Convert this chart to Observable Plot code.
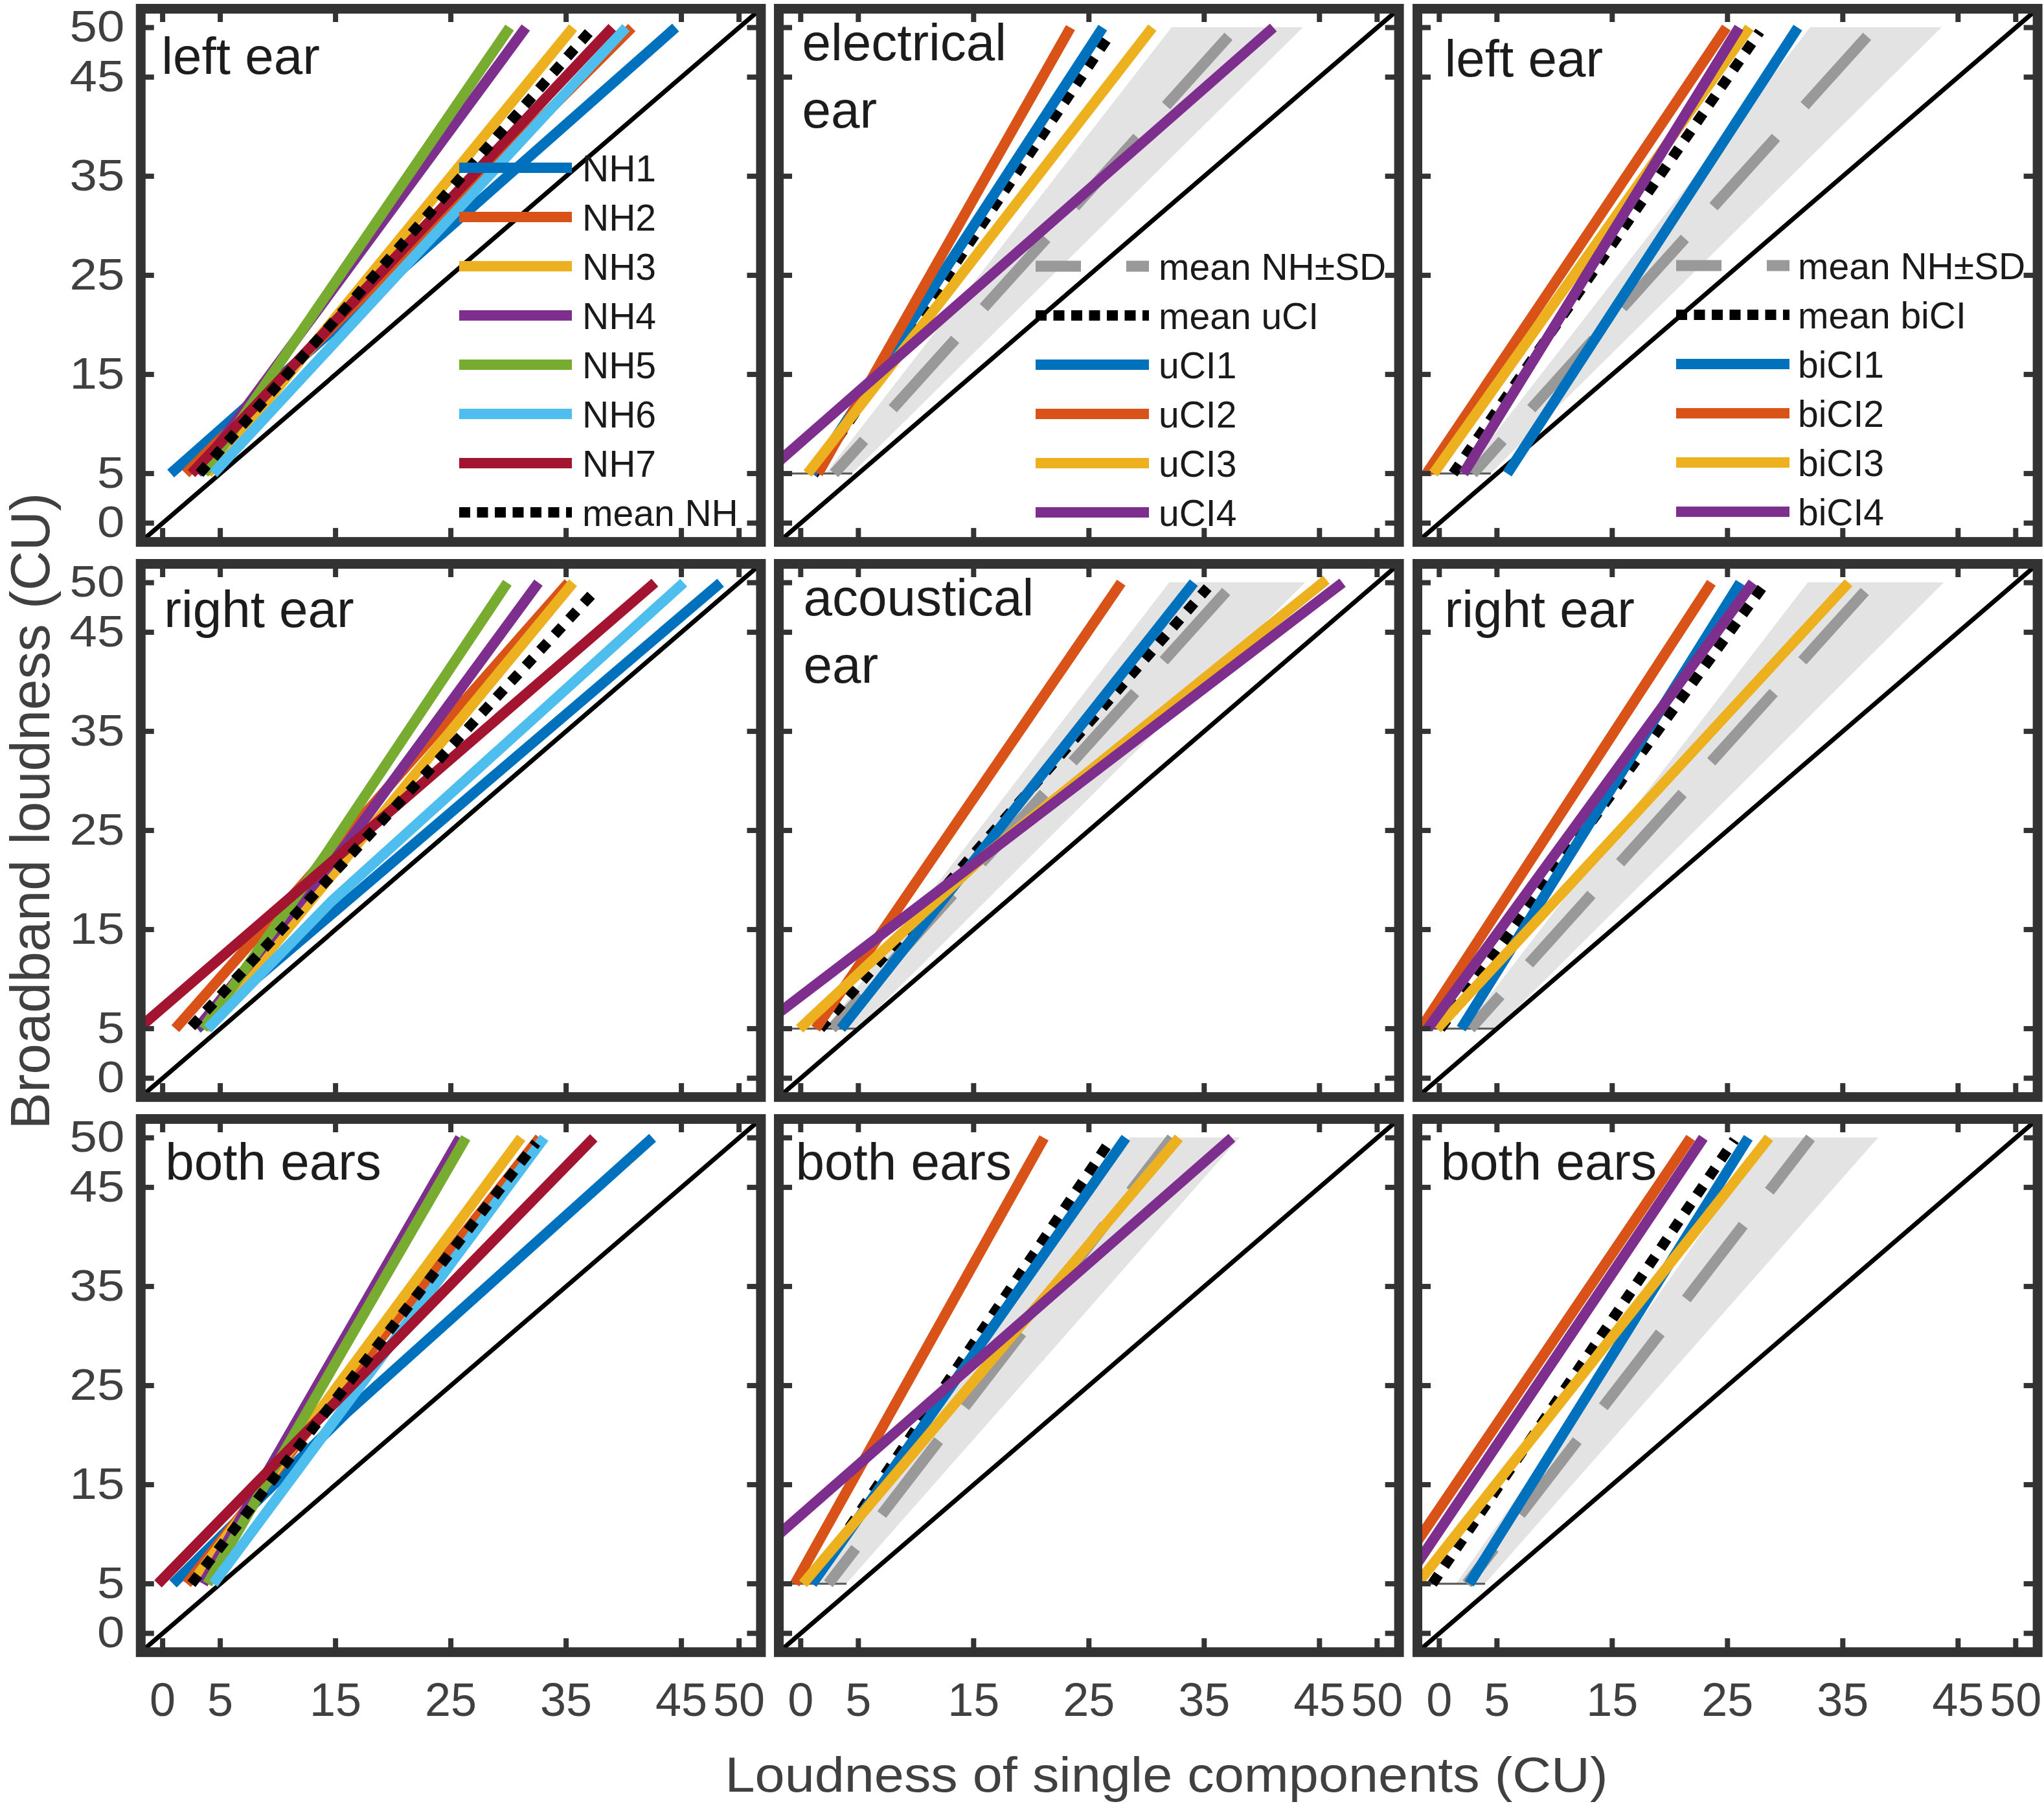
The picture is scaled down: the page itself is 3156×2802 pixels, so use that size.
<!DOCTYPE html>
<html><head><meta charset="utf-8">
<script src="https://cdn.jsdelivr.net/npm/d3@7"></script>
<script src="https://cdn.jsdelivr.net/npm/@observablehq/plot@0.6"></script>
<style>
html,body{margin:0;padding:0;background:#fff;}
#fig{position:relative;width:3156px;height:2802px;background:#fff;font-family:"Liberation Sans",Arial,Helvetica,sans-serif;overflow:hidden;}
.ttl{position:absolute;color:#404040;white-space:nowrap;line-height:1;}
</style></head><body><div id="fig"></div>
<script>
// ---------------- DATA ----------------
const xTicks = [0, 5, 15, 25, 35, 45, 50];
const yTicks = [0, 5, 15, 25, 35, 45, 50];
const axisDomain = [-1.9, 51.9];
const xTitle = "Loudness of single components (CU)";
const yTitle = "Broadband loudness (CU)";
const panelLabels = [
  ["left ear", "electrical\near", "left ear"],
  ["right ear", "acoustical\near", "right ear"],
  ["both ears", "both ears", "both ears"]
];
const nhNames = ["NH1", "NH2", "NH3", "NH4", "NH5", "NH6", "NH7"];
const uciNames = ["uCI1", "uCI2", "uCI3", "uCI4"];
const biciNames = ["biCI1", "biCI2", "biCI3", "biCI4"];
const nhColors = ["#0072BD", "#D95319", "#EDB120", "#7E2F8E", "#77AC30", "#4DBEEE", "#A2142F"];
const ciColors = ["#0072BD", "#D95319", "#EDB120", "#7E2F8E"];
const meanNHLabel = "mean NH";
const meanNHSDLabel = "mean NH\u00B1SD";
const meanUCILabel = "mean uCI";
const meanBICILabel = "mean biCI";

// NH listeners: [x, y] points of each fitted function
const nhLeft = [
  [[0.7, 5], [44.5, 50]],
  [[2.0, 5], [40.7, 50]],
  [[3.9, 5], [35.6, 50]],
  [[3.0, 5], [31.5, 50]],
  [[3.6, 5], [30.1, 50]],
  [[4.4, 5], [40.2, 50]],
  [[2.5, 5], [39.0, 50]]
];
const nhLeftMean = [[3.2, 5], [37.2, 49.8]];
const nhRight = [
  [[3.0, 5], [48.4, 50]],
  [[1.1, 5], [35.2, 50]],
  [[3.7, 5], [35.6, 50]],
  [[3.0, 5], [16.0, 23.7], [32.6, 50]],
  [[3.5, 5], [14.0, 22.3], [29.9, 50]],
  [[3.9, 5], [14.6, 17.8], [45.2, 50]],
  [[-2.1, 5], [42.7, 50]]
];
const nhRightMean = [[2.5, 5.2], [37.7, 49.4]];
const nhBoth = [
  [[0.9, 5], [16.0, 22.3], [42.5, 50]],
  [[2.1, 5], [32.7, 50]],
  [[2.5, 5], [31.1, 50]],
  [[3.5, 5], [25.8, 50]],
  [[3.9, 5], [26.3, 50]],
  [[4.4, 5], [33.1, 50]],
  [[-0.4, 5], [37.4, 50]]
];
const nhBothMean = [[2.5, 5], [32.4, 49.5]];

// mean NH (grey dashed) and +-SD band used in CI panels, per row
const nhMeanRef = [
  [[2.9, 5], [37.8, 50]],
  [[2.7, 5], [37.6, 50]],
  [[2.4, 5], [32.2, 50]]
];
const nhBand = [
  [{y: 5, x1: 2.2, x2: 4.5}, {y: 50, x1: 32.2, x2: 43.6}],
  [{y: 5, x1: 2.2, x2: 5.0}, {y: 50, x1: 32.0, x2: 43.8}],
  [{y: 5, x1: 1.5, x2: 4.0}, {y: 50, x1: 28.6, x2: 38.1}]
];

// unilateral CI users
const uciElectrical = [
  [[1.0, 5], [26.2, 50]],
  [[1.5, 5], [23.4, 50]],
  [[0.6, 5], [30.5, 50]],
  [[-3.1, 5], [41.0, 50]]
];
const uciElectricalMean = [[1.1, 4.9], [27.0, 49.6]];
const uciAcoustical = [
  [[3.5, 5], [34.1, 50]],
  [[1.3, 5], [27.8, 50]],
  [[-0.1, 5], [16.0, 22.5], [45.6, 50.3]],
  [[-3.7, 5], [47.0, 50]]
];
const uciAcousticalMean = [[1.7, 5], [35.3, 49.5]];
const uciBoth = [
  [[1.0, 5], [28.2, 50]],
  [[-0.5, 5], [21.1, 50]],
  [[0.2, 5], [32.8, 50]],
  [[-6.8, 5], [37.4, 50]]
];
const uciBothMean = [[1.1, 5.3], [26.9, 49.8]];

// bilateral CI users
const biciLeft = [
  [[5.9, 5], [31.1, 50]],
  [[-1.1, 5], [24.9, 50]],
  [[-0.5, 5], [26.9, 50]],
  [[2.1, 5], [26.0, 50]]
];
const biciLeftMean = [[1.2, 5], [27.8, 49.6]];
const biciRight = [
  [[1.9, 5], [26.1, 50]],
  [[-1.6, 5], [23.6, 50]],
  [[-0.2, 5], [35.5, 50]],
  [[-1.0, 5], [27.2, 50]]
];
const biciRightMean = [[0.1, 5], [28.0, 49.5]];
const biciBoth = [
  [[2.6, 5], [26.8, 50]],
  [[-4.4, 5], [21.8, 50]],
  [[-1.9, 5], [28.6, 50]],
  [[-3.1, 5], [22.9, 50]]
];
const biciBothMean = [[-0.6, 5], [25.6, 49.8]];

// ---------------- LAYOUT / STYLE ----------------
const X0 = 250.6, SX = 17.8, COLW = 985.7;   // pixel of x=0 in first column, px per unit
const Y0 = 807, SY = 15.3, ROWH = 857;       // pixel of y=0 in first row, px per unit
const FRAME = "#333333";
const FONT = "'Liberation Sans', Arial, Helvetica, sans-serif";
const TICK = 21;
const LW = 16;

const panels = [
  [{lines: nhLeft, colors: nhColors, mean: nhLeftMean, ref: false},
   {lines: uciElectrical, colors: ciColors, mean: uciElectricalMean, ref: true},
   {lines: biciLeft, colors: ciColors, mean: biciLeftMean, ref: true}],
  [{lines: nhRight, colors: nhColors, mean: nhRightMean, ref: false},
   {lines: uciAcoustical, colors: ciColors, mean: uciAcousticalMean, ref: true},
   {lines: biciRight, colors: ciColors, mean: biciRightMean, ref: true}],
  [{lines: nhBoth, colors: nhColors, mean: nhBothMean, ref: false},
   {lines: uciBoth, colors: ciColors, mean: uciBothMean, ref: true},
   {lines: biciBoth, colors: ciColors, mean: biciBothMean, ref: true}]
];
const labelOffsets = [
  [[32, 27], [36, 6], [42, 31]],
  [[36, 24], [38, 6], [42, 24]],
  [[38, 20], [26, 20], [36, 20]]
];

const fig = document.getElementById("fig");
const span = axisDomain[1] - axisDomain[0];
const innerW = span * SX, innerH = span * SY;
const diagonal = [[axisDomain[0], axisDomain[0]], [axisDomain[1], axisDomain[1]]];

function makePanel(r, c) {
  const p = panels[r][c];
  const left = X0 + c * COLW + axisDomain[0] * SX;
  const top = Y0 + r * ROWH - axisDomain[1] * SY;
  const ML = c === 0 ? left : 30, MR = 30, MT = 30, MB = r === 2 ? 170 : 30;
  const marks = [];
  if (p.ref) {
    const band = nhBand[r];
    marks.push(Plot.areaX(band, {y: "y", x1: "x1", x2: "x2", fill: "#e3e3e3", clip: true}));
    marks.push(Plot.ruleY([band[0]], {y: "y", x1: () => axisDomain[0], x2: "x2", stroke: "#555", strokeWidth: 3}));
  }
  marks.push(Plot.line(diagonal, {x: d => d[0], y: d => d[1], stroke: "#000", strokeWidth: 7, clip: true}));
  if (p.ref) {
    marks.push(Plot.line(nhMeanRef[r], {x: d => d[0], y: d => d[1], stroke: "#999999", strokeWidth: 17,
      strokeDasharray: "144,66", strokeDashoffset: 75, strokeLinecap: "butt", clip: true}));
  }
  const meanMark = Plot.line(p.mean, {x: d => d[0], y: d => d[1], stroke: "#000", strokeWidth: LW,
    strokeDasharray: "17,16", strokeLinecap: "butt", strokeLinejoin: "round", clip: true});
  if (p.ref) marks.push(meanMark);
  p.lines.forEach((pts, i) => {
    marks.push(Plot.line(pts, {x: d => d[0], y: d => d[1], stroke: p.colors[i], strokeWidth: LW,
      strokeLinecap: "butt", strokeLinejoin: "round", clip: true}));
  });
  if (!p.ref) marks.push(meanMark);
  // inner ticks on four sides
  marks.push(Plot.ruleX(xTicks, {x: d => d, insetTop: innerH - TICK, stroke: FRAME, strokeWidth: 8}));
  marks.push(Plot.ruleX(xTicks, {x: d => d, insetBottom: innerH - TICK, stroke: FRAME, strokeWidth: 8}));
  marks.push(Plot.ruleY(yTicks, {y: d => d, insetRight: innerW - TICK, stroke: FRAME, strokeWidth: 8}));
  marks.push(Plot.ruleY(yTicks, {y: d => d, insetLeft: innerW - TICK, stroke: FRAME, strokeWidth: 8}));
  const [ldx, ldy] = labelOffsets[r][c];
  marks.push(Plot.text([panelLabels[r][c]], {text: d => d, frameAnchor: "top-left", dx: ldx, dy: ldy,
    lineAnchor: "top", textAnchor: "start", fontSize: 80, fill: "#1c1c1c", lineHeight: 1.3}));
  marks.push(Plot.frame({stroke: FRAME, strokeWidth: 15}));
  if (r === 2) marks.push(Plot.axisX(xTicks, {tickSize: 0, tickPadding: 47, fontSize: 72, fill: "#404040",
    tickFormat: d => String(d), label: null}));
  if (c === 0) marks.push(Plot.axisY(yTicks, {tickSize: 0, tickPadding: 25, fontSize: 68, fill: "#404040",
    tickFormat: d => String(d), label: null}));
  const svg = Plot.plot({
    width: ML + innerW + MR, height: MT + innerH + MB,
    marginLeft: ML, marginRight: MR, marginTop: MT, marginBottom: MB,
    x: {domain: axisDomain, axis: null},
    y: {domain: axisDomain, axis: null},
    style: {fontFamily: FONT, background: "transparent", overflow: "visible", color: "#404040"},
    marks
  });
  svg.style.position = "absolute";
  svg.style.left = (left - ML) + "px";
  svg.style.top = (top - MT) + "px";
  d3.select(svg).selectAll('[aria-label="y-axis tick label"] text').each(function () {
    const t = this.getAttribute("transform");
    if (t) this.setAttribute("transform", t + " scale(1.12,1)");
  });
  fig.appendChild(svg);
}
for (let r = 0; r < 3; r++) for (let c = 0; c < 3; c++) makePanel(r, c);

// ---------------- LEGENDS ----------------
const lg = d3.select(fig).append("svg").attr("width", 3156).attr("height", 2802)
  .style("position", "absolute").style("left", "0px").style("top", "0px").style("pointer-events", "none");
function legend(entries, x1, x2, tx, y0, step) {
  entries.forEach((e, i) => {
    const y = y0 + i * step;
    lg.append("line").attr("x1", x1).attr("x2", x2).attr("y1", y).attr("y2", y)
      .attr("stroke", e.color).attr("stroke-width", e.w).attr("stroke-dasharray", e.dash || null);
    lg.append("text").attr("x", tx).attr("y", y).attr("dy", "0.36em").attr("font-size", 57)
      .attr("font-family", FONT).attr("fill", "#1a1a1a").text(e.label);
  });
}
const nhEntries = nhNames.map((n, i) => ({label: n, color: nhColors[i], w: LW}))
  .concat([{label: meanNHLabel, color: "#000", w: LW, dash: "17,10.5"}]);
const refEntries = [{label: meanNHSDLabel, color: "#999999", w: 17, dash: "70,70"}];
const uciEntries = refEntries.concat([{label: meanUCILabel, color: "#000", w: LW, dash: "17,10.5"}],
  uciNames.map((n, i) => ({label: n, color: ciColors[i], w: LW})));
const biciEntries = refEntries.concat([{label: meanBICILabel, color: "#000", w: LW, dash: "17,10.5"}],
  biciNames.map((n, i) => ({label: n, color: ciColors[i], w: LW})));
legend(nhEntries, 709, 883, 899, 259, 76);
legend(uciEntries, 1599, 1774, 1789, 411, 76);
legend(biciEntries, 2588, 2763, 2776, 410, 76);

// ---------------- AXIS TITLES ----------------
const xt = document.createElement("div");
xt.className = "ttl"; xt.textContent = xTitle;
xt.style.fontSize = "76px";
xt.style.left = "1801px"; xt.style.top = "2702px";
xt.style.transform = "translateX(-50%) scaleX(1.09)";
fig.appendChild(xt);
const yt = document.createElement("div");
yt.className = "ttl"; yt.textContent = yTitle;
yt.style.fontSize = "85px";
yt.style.left = "46px"; yt.style.top = "1252px";
yt.style.transform = "translate(-50%,-50%) rotate(-90deg)";
fig.appendChild(yt);
</script></body></html>
